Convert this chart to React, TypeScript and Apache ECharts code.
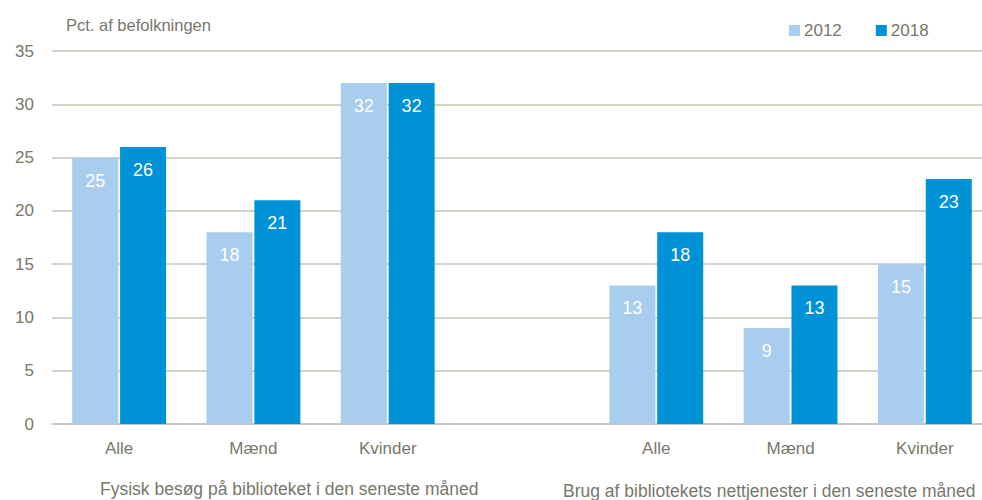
import React, { useEffect, useRef } from "react";
import * as echarts from "echarts";

const categories = ["Alle", "Mænd", "Kvinder", "", "Alle", "Mænd", "Kvinder"];
const values2012 = [25, 18, 32, null, 13, 9, 15];
const values2018 = [26, 21, 32, null, 18, 13, 23];
const seriesNames = ["2012", "2018"];
const groupLabels = [
  "Fysisk besøg på biblioteket i den seneste måned",
  "Brug af bibliotekets nettjenester i den seneste måned",
];
const yTitle = "Pct. af befolkningen";

const FONT = "'Liberation Sans', Arial, sans-serif";
const GRAY = "#77776b";
const FS = 17;

export default function App() {
  const ref = useRef<HTMLDivElement>(null);
  useEffect(() => {
    document.body.style.margin = "0";
    document.body.style.overflow = "hidden";
    const chart = echarts.init(ref.current!, null, { renderer: "svg" });
    const label = {
      show: true,
      position: "insideTop",
      distance: 14,
      color: "#ffffff",
      fontSize: 18,
      fontFamily: FONT,
    };
    chart.setOption({
      animation: false,
      textStyle: { fontFamily: FONT },
      grid: { left: 52, top: 51, bottom: 76, right: 0 },
      legend: {
        data: seriesNames,
        left: 784,
        top: 17,
        itemWidth: 11,
        itemHeight: 11,
        itemGap: 34,
        icon: "rect",
        textStyle: { color: GRAY, fontSize: FS, fontFamily: FONT, padding: [0, 0, 0, -1] },
      },
      xAxis: {
        type: "category",
        data: categories,
        axisTick: { show: false },
        axisLine: { lineStyle: { color: "#c4c4b8", width: 1.5 } },
        axisLabel: { color: GRAY, fontSize: FS, fontFamily: FONT, margin: 16 },
      },
      yAxis: {
        type: "value",
        min: 0,
        max: 35,
        interval: 5,
        name: yTitle,
        nameLocation: "end",
        nameGap: 18,
        nameTextStyle: { color: GRAY, fontSize: 16.5, fontFamily: FONT, align: "left", padding: [0, 0, 0, 14] },
        axisLabel: { color: GRAY, fontSize: FS, fontFamily: FONT, margin: 18 },
        splitLine: { lineStyle: { color: "#c4c4b8", width: 1.5 } },
        axisLine: { show: false },
        axisTick: { show: false },
      },
      series: [
        {
          name: seriesNames[0],
          type: "bar",
          data: values2012,
          barWidth: 46,
          barGap: "4%",
          itemStyle: { color: "#a8cdee" },
          label,
        },
        {
          name: seriesNames[1],
          type: "bar",
          data: values2018,
          barWidth: 46,
          itemStyle: { color: "#0092d6" },
          label,
        },
      ],
      graphic: [
        {
          type: "text",
          left: 100,
          top: 480,
          style: { text: groupLabels[0], fill: GRAY, fontSize: 17.5, fontFamily: FONT },
        },
        {
          type: "text",
          left: 563,
          top: 482,
          style: { text: groupLabels[1], fill: GRAY, fontSize: 17.5, fontFamily: FONT },
        },
      ],
    });
    return () => chart.dispose();
  }, []);
  return (
    <div style={{ width: 982, height: 500, overflow: "hidden" }}>
      <div ref={ref} style={{ width: 992, height: 500 }} />
    </div>
  );
}
